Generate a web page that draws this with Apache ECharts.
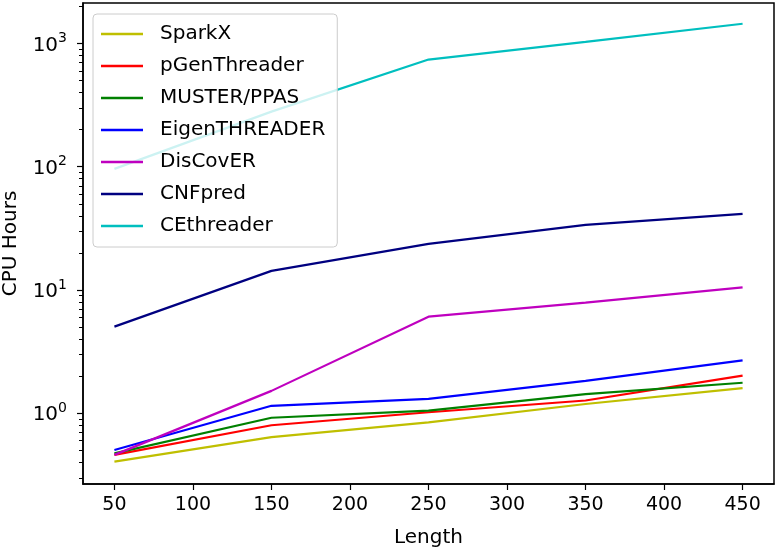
<!DOCTYPE html>
<html>
<head>
<meta charset="utf-8">
<script src="https://cdn.jsdelivr.net/npm/echarts@6/dist/echarts.min.js"></script>
<style>
  html, body { margin: 0; padding: 0; background: #fff; }
  #chart { width: 779px; height: 554px; }
</style>
</head>
<body>
<div id="chart"></div>
<script>
const lengths = [50, 150, 250, 350, 450]
const names = ['SparkX', 'pGenThreader', 'MUSTER/PPAS', 'EigenTHREADER', 'DisCovER', 'CNFpred', 'CEthreader']
const colors = ['#bfbf00', '#ff0000', '#008000', '#0000ff', '#bf00bf', '#000080', '#00bfbf']

const sparkX = [0.405, 0.64, 0.845, 1.19, 1.6]
const pGenThreader = [0.46, 0.80, 1.02, 1.27, 2.02]
const muster = [0.473, 0.92, 1.05, 1.43, 1.77]
const eigenThreader = [0.504, 1.15, 1.31, 1.83, 2.69]
const disCovER = [0.46, 1.52, 6.08, 7.9, 10.5]
const cnfPred = [5.05, 14.3, 23.7, 33.8, 41.5]
const ceThreader = [96, 280, 740, 1030, 1445]

const xTicks = [50, 100, 150, 200, 250, 300, 350, 400, 450]
const yTicks = [1, 10, 100, 1000]
const yMinorTicks = [0.3, 0.4, 0.5, 0.6, 0.7, 0.8, 0.9, 2, 3, 4, 5, 6, 7, 8, 9,
  20, 30, 40, 50, 60, 70, 80, 90, 200, 300, 400, 500, 600, 700, 800, 900, 2000]

const seriesData = [sparkX, pGenThreader, muster, eigenThreader, disCovER, cnfPred, ceThreader]

const font = 'DejaVu Sans'
const chart = echarts.init(document.getElementById('chart'))

const yBase = {
  type: 'log',
  logBase: 10,
  min: 0.267,
  max: 2128,
  splitLine: { show: false },
  axisLine: { show: true, lineStyle: { color: '#000', width: 1.5 } },
}

chart.setOption({
  animation: false,
  textStyle: { fontFamily: font },
  grid: {
    left: 83, right: 5, top: 3, bottom: 70,
    outerBoundsMode: 'none',
    containLabel: false,
    show: true, borderColor: '#000', borderWidth: 1.5,
  },
  legend: {
    left: 93, top: 14,
    orient: 'vertical',
    padding: [9, 12, 10, 8],
    itemGap: 10,
    itemWidth: 42,
    itemHeight: 2.5,
    icon: 'rect',
    backgroundColor: 'rgba(255,255,255,0.8)',
    borderColor: '#cccccc',
    borderWidth: 1,
    borderRadius: 4,
    textStyle: { fontSize: 20, lineHeight: 22, color: '#000', fontFamily: font, padding: [0, 0, 0, 12] },
    data: names,
  },
  xAxis: {
    type: 'value',
    min: 30,
    max: 470,
    name: 'Length',
    nameLocation: 'middle',
    nameGap: 44,
    nameTextStyle: { fontSize: 20, color: '#000' },
    splitLine: { show: false },
    axisLine: { lineStyle: { color: '#000', width: 1.5 } },
    axisTick: { customValues: xTicks, length: 6, lineStyle: { color: '#000', width: 1.2 } },
    axisLabel: { customValues: xTicks, fontSize: 19, color: '#000', margin: 12 },
  },
  yAxis: [
    Object.assign({}, yBase, {
      name: 'CPU Hours',
      nameLocation: 'middle',
      nameGap: 62,
      nameTextStyle: { fontSize: 20, color: '#000' },
      axisTick: { customValues: yTicks, length: 6, lineStyle: { color: '#000', width: 1.2 } },
      axisLabel: {
        customValues: yTicks,
        color: '#000',
        margin: 16,
        formatter: (v) => '{b|10}{s|' + Math.round(Math.log10(v)) + '}',
        rich: {
          b: { fontSize: 20, fontFamily: font, color: '#000', lineHeight: 24, verticalAlign: 'bottom' },
          s: { fontSize: 14, fontFamily: font, color: '#000', lineHeight: 24, verticalAlign: 'top' },
        },
      },
    }),
    Object.assign({}, yBase, {
      position: 'left',
      axisLine: { show: false },
      axisTick: { customValues: yMinorTicks, length: 4, lineStyle: { color: '#000', width: 1 } },
      axisLabel: { show: false },
    }),
  ],
  series: names.map((n, i) => ({
    name: n,
    type: 'line',
    symbol: 'none',
    color: colors[i],
    lineStyle: { width: 2.2, color: colors[i] },
    data: lengths.map((x, j) => [x, seriesData[i][j]]),
  })),
})
</script>
</body>
</html>
